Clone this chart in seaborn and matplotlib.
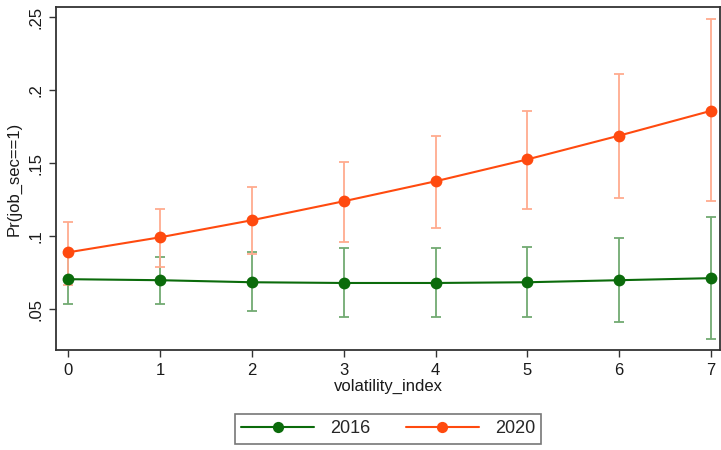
import matplotlib
matplotlib.use("Agg")
import matplotlib.pyplot as plt
import seaborn as sns
import pandas as pd
from matplotlib.ticker import FixedLocator, FixedFormatter

# Predicted probabilities with 95% CIs by volatility index
volatility_index = [0, 1, 2, 3, 4, 5, 6, 7]

pr_2016 = [0.0706, 0.0699, 0.0685, 0.0680, 0.0680, 0.0685, 0.0699, 0.0713]
lo_2016 = [0.0534, 0.0534, 0.0486, 0.0450, 0.0450, 0.0450, 0.0410, 0.0295]
hi_2016 = [0.0880, 0.0856, 0.0890, 0.0920, 0.0920, 0.0925, 0.0986, 0.1130]

pr_2020 = [0.0890, 0.0993, 0.1110, 0.1240, 0.1377, 0.1527, 0.1690, 0.1860]
lo_2020 = [0.0665, 0.0788, 0.0877, 0.0960, 0.1055, 0.1185, 0.1260, 0.1240]
hi_2020 = [0.1100, 0.1190, 0.1340, 0.1510, 0.1685, 0.1860, 0.2110, 0.2490]

years = ["2016", "2020"]
year_colors = {"2016": "#0b6b0b", "2020": "#ff4a0f"}
ci_colors = {"2016": "#72aa72", "2020": "#ffab8f"}

y_ticks = [0.05, 0.10, 0.15, 0.20, 0.25]
y_tick_labels = [".05", ".1", ".15", ".2", ".25"]

df = pd.DataFrame({
    "volatility_index": volatility_index * 2,
    "pr": pr_2016 + pr_2020,
    "lo": lo_2016 + lo_2020,
    "hi": hi_2016 + hi_2020,
    "year": ["2016"] * 8 + ["2020"] * 8,
})

sns.set_theme(style="white")
plt.rcParams["font.family"] = ["Liberation Sans", "DejaVu Sans"]

fig = plt.figure(figsize=(7.21, 4.5), dpi=100)
ax = fig.add_axes([0.078, 0.222, 0.921, 0.762])

# Confidence intervals drawn first so the point estimates sit on top
for yr in years:
    sub = df[df["year"] == yr]
    ax.errorbar(sub["volatility_index"], sub["pr"],
                yerr=[sub["pr"] - sub["lo"], sub["hi"] - sub["pr"]],
                fmt="none", ecolor=ci_colors[yr], elinewidth=1.3,
                capsize=3.6, capthick=1.3, zorder=2)

sns.lineplot(data=df, x="volatility_index", y="pr", hue="year",
             palette=year_colors, marker="o", markersize=8.5,
             markeredgewidth=0, linewidth=1.5, ax=ax, zorder=3)

ax.set_xlim(-0.13, 7.1)
ax.set_ylim(0.022, 0.257)
ax.set_xticks(volatility_index)
ax.yaxis.set_major_locator(FixedLocator(y_ticks))
ax.yaxis.set_major_formatter(FixedFormatter(y_tick_labels))
for lbl in ax.get_yticklabels():
    lbl.set_rotation(90)
    lbl.set_va("center")

ax.tick_params(axis="both", which="major", direction="out", length=5,
               width=1, color="#333333", labelsize=12, labelcolor="#1a1a1a",
               left=True, bottom=True, pad=4)
ax.set_xlabel("volatility_index", fontsize=12, color="#1a1a1a", labelpad=1)
ax.set_ylabel("Pr(job_sec==1)", fontsize=12, color="#1a1a1a", labelpad=5)

for side in ["left", "bottom", "top", "right"]:
    ax.spines[side].set_color("#333333")
    ax.spines[side].set_linewidth(1.3)

handles, labels = ax.get_legend_handles_labels()
leg = ax.legend(handles, labels, loc="upper center", bbox_to_anchor=(0.5, -0.16),
                ncol=2, frameon=True, fancybox=False, fontsize=13,
                handlelength=4.0, columnspacing=2.0, handletextpad=0.9,
                borderpad=0.35, markerscale=0.95, edgecolor="#555555")
leg.get_frame().set_linewidth(1.2)

fig.savefig("out.png", dpi=100, facecolor="white")
